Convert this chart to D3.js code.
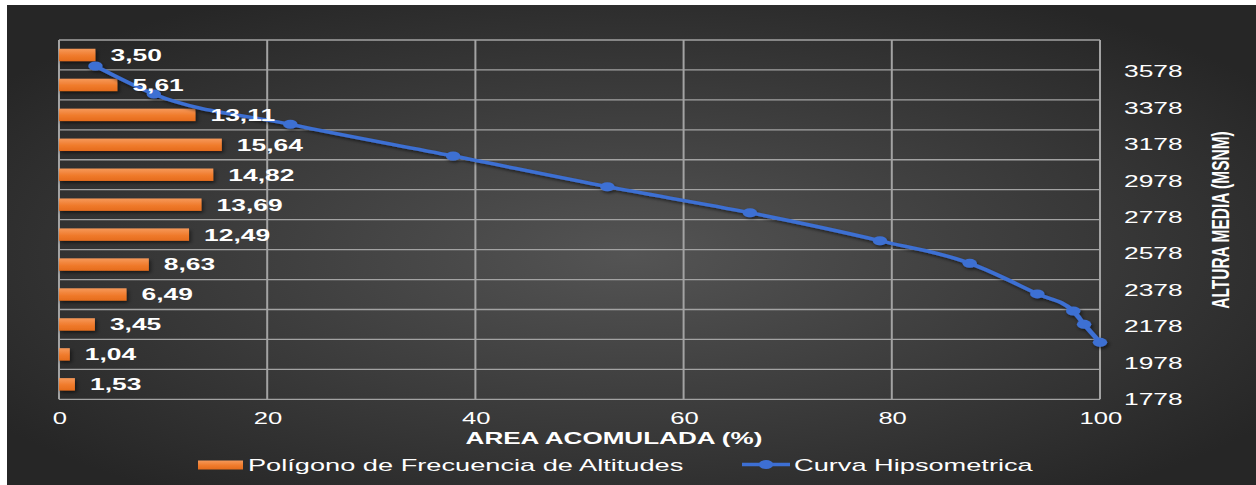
<!DOCTYPE html>
<html>
<head>
<meta charset="utf-8">
<script src="https://cdn.jsdelivr.net/npm/d3@7"></script>
<style>
  html, body { margin: 0; padding: 0; background: #ffffff; overflow: hidden; }
  svg { display: block; }
  text { font-family: "Liberation Sans", Arial, sans-serif; }
</style>
</head>
<body>
<script>
// Altitude classes (top = highest band)
const classes = ["C1", "C2", "C3", "C4", "C5", "C6", "C7", "C8", "C9", "C10", "C11", "C12"];
// Frequency polygon: % of basin area in each altitude class
const frequency = [3.50, 5.61, 13.11, 15.64, 14.82, 13.69, 12.49, 8.63, 6.49, 3.45, 1.04, 1.53];
// Hypsometric curve: accumulated area (%) and mean altitude (m a.s.l.)
const cumulativeArea = [3.50, 9.11, 22.22, 37.86, 52.68, 66.37, 78.86, 87.49, 93.98, 97.43, 98.47, 100];
const altitude = [3609, 3455, 3289, 3115, 2946, 2803, 2649, 2525, 2357, 2263, 2190, 2091];
// Axis ticks
const areaTicks = [0, 20, 40, 60, 80, 100];
const altitudeTicks = [1778, 1978, 2178, 2378, 2578, 2778, 2978, 3178, 3378, 3578];

// The drawing is laid out in a narrower space and stretched to the full width.
const W = 1256, H = 485, SX = 1.6, IW = W / SX;
const plot = { left: 59 / SX, right: 1100 / SX, top: 40, bottom: 399.3 };

const svg = d3.select("body").append("svg")
  .attr("width", W).attr("height", H)
  .attr("viewBox", `0 0 ${IW} ${H}`)
  .attr("preserveAspectRatio", "none");

const defs = svg.append("defs");
const bg = defs.append("radialGradient").attr("id", "bg")
  .attr("cx", "50%").attr("cy", "52%").attr("r", "62%");
bg.append("stop").attr("offset", "0%").attr("stop-color", "#545454");
bg.append("stop").attr("offset", "100%").attr("stop-color", "#262626");

const barGrad = defs.append("linearGradient").attr("id", "barGrad")
  .attr("x1", 0).attr("y1", 0).attr("x2", 0).attr("y2", 1);
barGrad.append("stop").attr("offset", "0%").attr("stop-color", "#f6995a");
barGrad.append("stop").attr("offset", "55%").attr("stop-color", "#f07b2c");
barGrad.append("stop").attr("offset", "100%").attr("stop-color", "#e56c1c");

const shadow = defs.append("filter").attr("id", "shadow")
  .attr("x", "-10%").attr("y", "-30%").attr("width", "130%").attr("height", "180%");
shadow.append("feDropShadow").attr("dx", 1).attr("dy", 2)
  .attr("stdDeviation", 1.4).attr("flood-color", "#000").attr("flood-opacity", 0.55);

svg.append("rect")
  .attr("x", 7 / SX).attr("y", 5)
  .attr("width", IW - 7 / SX).attr("height", H - 5)
  .attr("fill", "url(#bg)");

// Scales
const x = d3.scaleLinear().domain([0, 100]).range([plot.left, plot.right]);
const yBand = d3.scaleBand().domain(classes).range([plot.top, plot.bottom])
  .paddingInner(0.585).paddingOuter(0.2925);
const yAlt = d3.scaleLinear().domain([1778, 3752]).range([plot.bottom, plot.top]);

const gridColor = "#a3a3a3";

// Horizontal gridlines on the class boundaries
const bandEdges = d3.range(classes.length + 1).map(i => plot.top + i * (plot.bottom - plot.top) / classes.length);
svg.append("g").selectAll("line").data(bandEdges).join("line")
  .attr("x1", plot.left).attr("x2", plot.right)
  .attr("y1", d => d).attr("y2", d => d)
  .attr("stroke", gridColor).attr("stroke-width", 1.3);

// Vertical gridlines
svg.append("g").selectAll("line").data(areaTicks).join("line")
  .attr("x1", d => x(d)).attr("x2", d => x(d))
  .attr("y1", plot.top).attr("y2", plot.bottom)
  .attr("stroke", gridColor).attr("stroke-width", 1.25);

// Frequency bars
const bars = classes.map((c, i) => ({ c, v: frequency[i] }));
svg.append("g").attr("filter", "url(#shadow)")
  .selectAll("rect").data(bars).join("rect")
  .attr("x", x(0))
  .attr("y", d => yBand(d.c))
  .attr("width", d => x(d.v) - x(0))
  .attr("height", yBand.bandwidth())
  .attr("fill", "url(#barGrad)");

// Hypsometric curve
const pts = cumulativeArea.map((a, i) => ({ a, h: altitude[i] }));
const line = d3.line().x(d => x(d.a)).y(d => yAlt(d.h)).curve(d3.curveMonotoneX);
const blue = "#3d6fd3";
const curveG = svg.append("g").attr("filter", "url(#shadow)");
curveG.append("path").datum(pts)
  .attr("d", line).attr("fill", "none")
  .attr("stroke", blue).attr("stroke-width", 3.4).attr("stroke-linejoin", "round");
curveG.selectAll("circle").data(pts).join("circle")
  .attr("cx", d => x(d.a)).attr("cy", d => yAlt(d.h)).attr("r", 4.5)
  .attr("fill", blue);

// Value labels, drawn above the curve
const fmt = d3.formatLocale({ decimal: ",", thousands: ".", grouping: [3], currency: ["", ""] }).format(".2f");
svg.append("g").selectAll("text").data(bars).join("text")
  .attr("x", d => x(d.v) + 9.4)
  .attr("y", d => yBand(d.c) + yBand.bandwidth() / 2)
  .attr("dy", "0.36em")
  .attr("fill", "#ffffff")
  .attr("font-size", 16.5)
  .attr("font-weight", "bold")
  .text(d => fmt(d.v));

// Bottom axis
const xAxis = svg.append("g").attr("transform", `translate(0,${plot.bottom})`)
  .call(d3.axisBottom(x).tickValues(areaTicks).tickSize(0).tickPadding(13));
xAxis.select(".domain").remove();
xAxis.selectAll("text").attr("fill", "#ffffff").attr("font-size", 16)
  .attr("font-family", "Liberation Sans, Arial, sans-serif");

// Right axis (altitude)
const yAxis = svg.append("g").attr("transform", `translate(${plot.right},0)`)
  .call(d3.axisRight(yAlt).tickValues(altitudeTicks).tickFormat(d3.format("d")).tickSize(0).tickPadding(15));
yAxis.select(".domain").remove();
yAxis.selectAll("text").attr("fill", "#ffffff").attr("font-size", 16.5)
  .attr("font-family", "Liberation Sans, Arial, sans-serif");

// Axis titles
svg.append("text")
  .attr("x", 614 / SX).attr("y", 438).attr("dy", "0.36em")
  .attr("text-anchor", "middle").attr("fill", "#ffffff")
  .attr("font-size", 16.3).attr("font-weight", "bold")
  .text("AREA ACOMULADA (%)");

svg.append("text")
  .attr("transform", `translate(${1220 / SX},220) rotate(-90)`)
  .attr("dy", "0.36em")
  .attr("text-anchor", "middle").attr("fill", "#ffffff")
  .attr("font-size", 15.5).attr("font-weight", "bold")
  .text("ALTURA MEDIA (MSNM)");

// Legend
const legY = 465;
const leg = svg.append("g");
leg.append("rect")
  .attr("x", 198 / SX).attr("y", legY - 4.5)
  .attr("width", 45 / SX).attr("height", 9)
  .attr("fill", "url(#barGrad)");
leg.append("text")
  .attr("x", 248 / SX).attr("y", legY).attr("dy", "0.36em")
  .attr("fill", "#ffffff").attr("font-size", 17)
  .text("Polígono de Frecuencia de Altitudes");
leg.append("line")
  .attr("x1", 742 / SX).attr("x2", 790 / SX)
  .attr("y1", legY - 0.5).attr("y2", legY - 0.5)
  .attr("stroke", blue).attr("stroke-width", 3.4);
leg.append("circle")
  .attr("cx", 766 / SX).attr("cy", legY - 0.5).attr("r", 4.5)
  .attr("fill", blue);
leg.append("text")
  .attr("x", 794 / SX).attr("y", legY).attr("dy", "0.36em")
  .attr("fill", "#ffffff").attr("font-size", 17)
  .text("Curva Hipsometrica");
</script>
</body>
</html>
